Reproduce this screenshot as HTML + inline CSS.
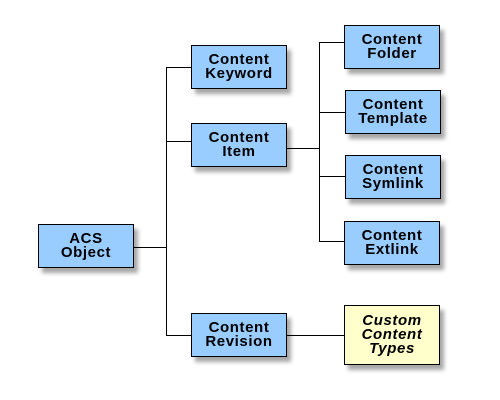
<!DOCTYPE html>
<html><head><style>
body{margin:0;width:500px;height:400px;background:#fff;position:relative;overflow:hidden;font-family:"Liberation Sans",sans-serif}
.b{position:absolute;width:94px;height:42px;background:#99ccff;border:1px solid #000;box-sizing:border-box;box-shadow:4px 5px 4px rgba(0,0,0,0.35);display:flex;align-items:center;justify-content:center;text-align:center;font-weight:bold;font-size:15px;line-height:14px;letter-spacing:0.6px;color:#000}
.y{background:#ffffcc;font-style:italic}
.h,.v{position:absolute;background:#000}
.h{height:1px}.v{width:1px}
</style></head><body>
<div class="h" style="left:134px;top:247px;width:32px"></div>
<div class="v" style="left:166px;top:67px;height:269px"></div>
<div class="h" style="left:166px;top:67px;width:25px"></div>
<div class="h" style="left:166px;top:141px;width:25px"></div>
<div class="h" style="left:166px;top:335px;width:25px"></div>
<div class="h" style="left:287px;top:148px;width:32px"></div>
<div class="v" style="left:319px;top:42px;height:200px"></div>
<div class="h" style="left:319px;top:42px;width:25px"></div>
<div class="h" style="left:319px;top:112px;width:26px"></div>
<div class="h" style="left:319px;top:176px;width:26px"></div>
<div class="h" style="left:319px;top:241px;width:25px"></div>
<div class="h" style="left:287px;top:335px;width:57px"></div>

<div class="b" style="left:38px;top:224px;width:96px;height:44px">ACS<br>Object</div>
<div class="b" style="left:191px;top:45px;width:96px;height:44px">Content<br>Keyword</div>
<div class="b" style="left:191px;top:123px;width:96px;height:44px">Content<br>Item</div>
<div class="b" style="left:191px;top:313px;width:96px;height:44px">Content<br>Revision</div>
<div class="b" style="left:344px;top:25px;width:96px;height:44px">Content<br>Folder</div>
<div class="b" style="left:345px;top:90px;width:96px;height:44px">Content<br>Template</div>
<div class="b" style="left:345px;top:155px;width:96px;height:44px">Content<br>Symlink</div>
<div class="b" style="left:344px;top:221px;width:96px;height:44px">Content<br>Extlink</div>
<div class="b y" style="left:344px;top:305px;width:96px;height:60px">Custom<br>Content<br>Types</div>
</body></html>
